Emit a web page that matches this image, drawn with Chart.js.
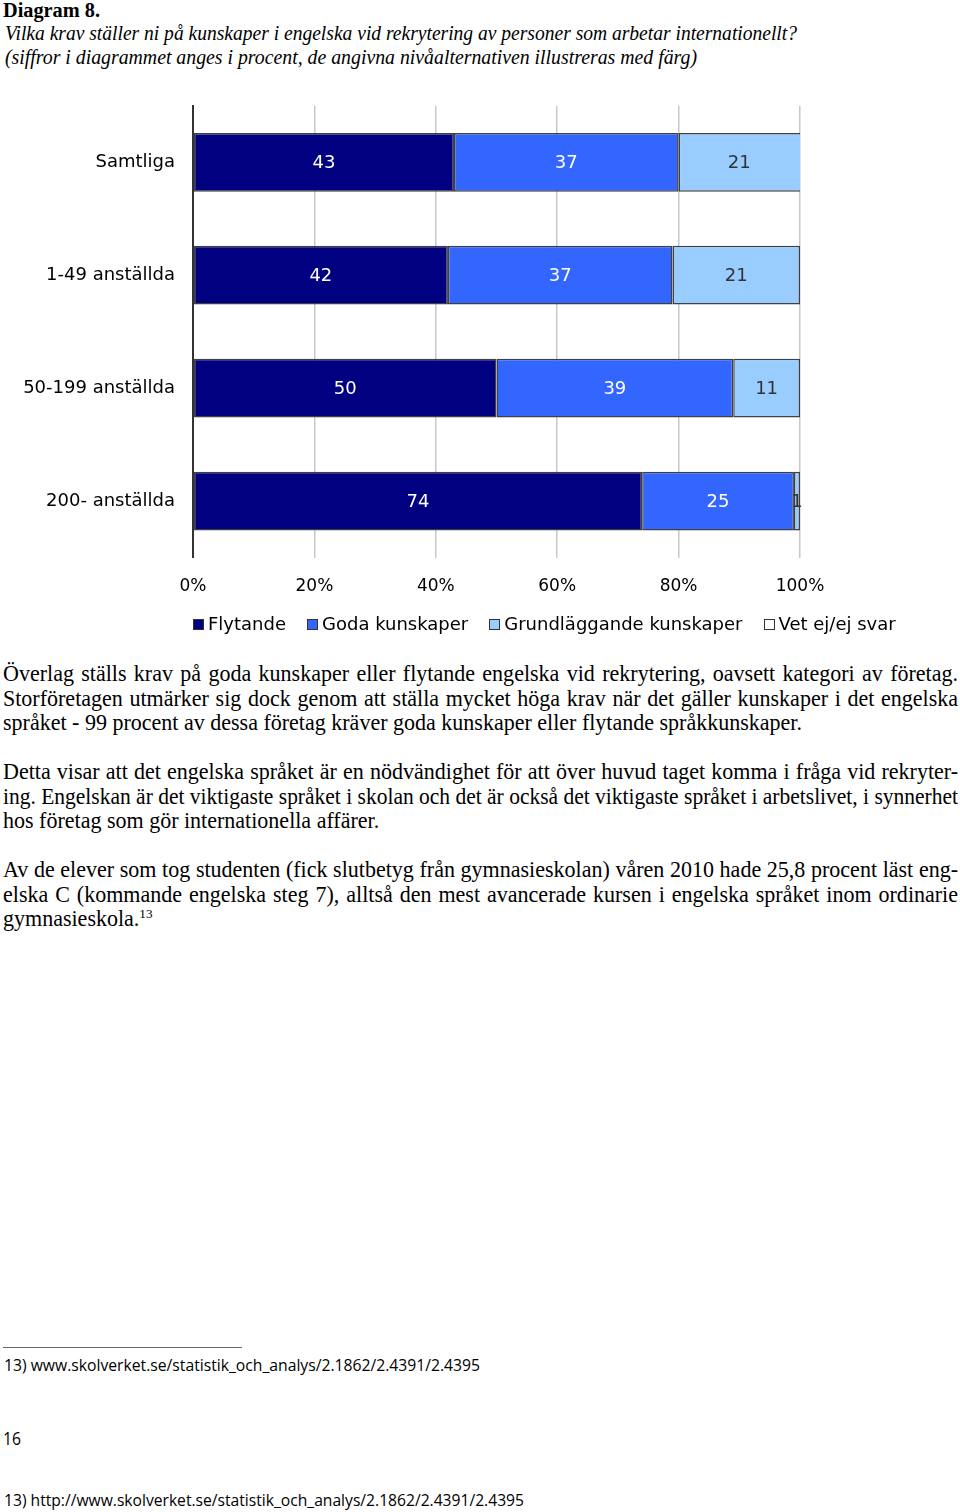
<!DOCTYPE html>
<html>
<head>
<meta charset="utf-8">
<script src="https://cdn.jsdelivr.net/npm/chart.js@4.4.1/dist/chart.umd.min.js"></script>
<style>
  body { margin: 0; background: #fff; width: 960px; height: 1512px; position: relative; overflow: hidden; color: #000; }
  .abs { position: absolute; white-space: nowrap; }
  .line { display: inline-block; transform-origin: 0 50%; }
  .serif { font-family: "Liberation Serif", serif; }
  .sans { font-family: "Open Sans", sans-serif; }
  .body-line { position: absolute; left: 3px; width: 955px; white-space: nowrap; font-family: "Liberation Serif", serif; line-height: 24px; }
  .body-line > span { display: inline-block; transform-origin: 0 50%; }
  .just { text-align: justify; text-align-last: justify; }
  #chartWrap { position: absolute; left: 0; top: 77px; }
  #legend { position: absolute; left: 193px; top: 613px; display: flex; align-items: center; font: 18px "DejaVu Sans", sans-serif; line-height: 22px; }
  #legend .item { display: flex; align-items: center; margin-right: 21px; }
  #legend .box { width: 9px; height: 9px; border: 1px solid #333; margin-right: 4px; }
  sup { font-size: 0.6em; line-height: 0; }
</style>
</head>
<body>

<!-- heading -->
<div class="abs serif" style="left:3px;top:-2px;line-height:24px;font-size:20px;font-weight:bold;"><span class="line fit" data-w="97">Diagram 8.</span></div>
<div class="abs serif" style="left:5px;top:21px;line-height:24px;font-size:20px;font-style:italic;"><span class="line fit" data-w="792">Vilka krav ställer ni på kunskaper i engelska vid rekrytering av personer som arbetar internationellt?</span></div>
<div class="abs serif" style="left:5px;top:45px;line-height:24px;font-size:20px;font-style:italic;"><span class="line fit" data-w="692">(siffror i diagrammet anges i procent, de angivna nivåalternativen illustreras med färg)</span></div>

<div id="chartWrap"><canvas id="chart" width="960" height="543"></canvas></div>
<div id="legend"></div>

<!-- paragraphs -->
<div class="body-line" data-just="1" style="top:662px;"><span>Överlag ställs krav på goda kunskaper eller flytande engelska vid rekrytering, oavsett kategori av företag.</span></div>
<div class="body-line" data-just="1" style="top:687px;"><span>Storföretagen utmärker sig dock genom att ställa mycket höga krav när det gäller kunskaper i det engelska</span></div>
<div class="body-line" style="top:711px;"><span id="refLine">språket - 99 procent av dessa företag kräver goda kunskaper eller flytande språkkunskaper.</span></div>

<div class="body-line" data-just="1" style="top:760px;"><span>Detta visar att det engelska språket är en nödvändighet för att över huvud taget komma i fråga vid rekryter-</span></div>
<div class="body-line" data-just="1" style="top:785px;"><span>ing. Engelskan är det viktigaste språket i skolan och det är också det viktigaste språket i arbetslivet, i synnerhet</span></div>
<div class="body-line" style="top:809px;"><span>hos företag som gör internationella affärer.</span></div>

<div class="body-line" data-just="1" style="top:858px;"><span>Av de elever som tog studenten (fick slutbetyg från gymnasieskolan) våren 2010 hade 25,8 procent läst eng-</span></div>
<div class="body-line" data-just="1" style="top:883px;"><span>elska C (kommande engelska steg 7), alltså den mest avancerade kursen i engelska språket inom ordinarie</span></div>
<div class="body-line" style="top:907px;"><span>gymnasieskola.<sup>13</sup></span></div>

<!-- footnotes -->
<div class="abs" style="left:3px;top:1347px;width:239px;height:1px;background:#666;"></div>
<div class="abs sans" style="left:4px;top:1354px;line-height:22px;font-size:16px;"><span class="line fit" data-w="476">13) www.skolverket.se/statistik_och_analys/2.1862/2.4391/2.4395</span></div>
<div class="abs sans" style="left:3px;top:1427px;line-height:22px;font-size:19px;"><span class="line fit" data-w="18">16</span></div>
<div class="abs sans" style="left:4px;top:1489px;line-height:22px;font-size:17px;"><span class="line fit" data-w="520">13) http://www.skolverket.se/statistik_och_analys/2.1862/2.4391/2.4395</span></div>

<script>
// chart data
const categories = ['Samtliga', '1-49 anställda', '50-199 anställda', '200- anställda'];
const flytande   = [43, 42, 50, 74];
const goda       = [37, 37, 39, 25];
const grund      = [21, 21, 11, 1];
const vetEj      = [0, 0, 0, 0];
const xTicks     = [0, 20, 40, 60, 80, 100];

const seriesNames  = ['Flytande', 'Goda kunskaper', 'Grundläggande kunskaper', 'Vet ej/ej svar'];
const seriesValues = [flytande, goda, grund, vetEj];
const seriesColors = ['#000080', '#3366ff', '#99ccff', '#ffffff'];
const labelColors  = ['#ffffff', '#ffffff', '#333333', '#333333'];

// text fitting: stretch/squeeze single lines to the measured width
function fitLines() {
  document.querySelectorAll('.fit').forEach(el => {
    const w = el.getBoundingClientRect().width;
    const target = +el.dataset.w;
    if (w > 0) el.style.transform = `scaleX(${target / w})`;
  });

  // body font size chosen so the reference last line ends where it does
  const lines = document.querySelectorAll('.body-line');
  const ref = document.getElementById('refLine');
  lines.forEach(el => el.style.fontSize = '20px');
  const size = 20 * 799 / ref.getBoundingClientRect().width;
  lines.forEach(el => el.style.fontSize = size.toFixed(2) + 'px');

  // justified lines: spread the spaces if the line is short, squeeze it if too long
  lines.forEach(el => {
    if (!el.dataset.just) return;
    const span = el.firstElementChild;
    const w = span.getBoundingClientRect().width;
    if (w <= 955) {
      span.style.display = 'inline';
      el.classList.add('just');
    } else {
      span.style.transform = `scaleX(${955 / w})`;
    }
  });
}

function buildLegend() {
  const lg = document.getElementById('legend');
  seriesNames.forEach((name, i) => {
    const item = document.createElement('div');
    item.className = 'item';
    item.innerHTML = `<span class="box" style="background:${seriesColors[i]}"></span><span>${name}</span>`;
    lg.appendChild(item);
  });
}

// value labels in the middle of each bar segment
const barLabels = {
  id: 'barLabels',
  afterDatasetsDraw(chart) {
    const { ctx, chartArea } = chart;
    ctx.save();
    ctx.font = '18px "DejaVu Sans"';
    ctx.textAlign = 'center';
    ctx.textBaseline = 'middle';
    chart.data.datasets.forEach((ds, i) => {
      chart.getDatasetMeta(i).data.forEach((bar, j) => {
        const v = ds.data[j];
        if (!v) return;
        const right = Math.min(bar.x, chartArea.right);
        ctx.fillStyle = labelColors[i];
        ctx.fillText(String(v), (bar.base + right) / 2, bar.y + 1);
      });
    });
    ctx.restore();
  },
};

function renderChart() {
  const datasets = seriesNames.map((name, i) => ({
    label: name,
    data: seriesValues[i],
    backgroundColor: seriesColors[i],
    borderColor: '#404040',
    borderWidth: 1.5,
    borderSkipped: false,
    barPercentage: 0.52,
    categoryPercentage: 1,
  }));

  new Chart(document.getElementById('chart'), {
    type: 'bar',
    data: { labels: categories, datasets },
    options: {
      indexAxis: 'y',
      responsive: false,
      animation: false,
      devicePixelRatio: 1,
      layout: { padding: { top: 0, right: 160, bottom: 4, left: 0 } },
      plugins: { legend: { display: false }, tooltip: { enabled: false } },
      scales: {
        x: {
          stacked: true,
          min: 0,
          max: 100,
          afterBuildTicks: s => { s.ticks = xTicks.map(v => ({ value: v })); },
          ticks: {
            callback: v => v + '%',
            color: '#000',
            font: { family: 'DejaVu Sans', size: 17 },
            padding: 19,
            maxRotation: 0,
          },
          grid: { color: '#c8c8c8', lineWidth: 1.5, drawTicks: false },
          border: { display: false },
        },
        y: {
          stacked: true,
          afterFit: s => { s.width = 193; },
          ticks: {
            color: '#000',
            font: { family: 'DejaVu Sans', size: 18 },
            padding: 18,
          },
          grid: { display: false, drawTicks: false },
          border: { display: true, color: '#333', width: 2 },
        },
      },
    },
    plugins: [barLabels],
  });
}

buildLegend();
fitLines();
renderChart();
</script>
</body>
</html>
